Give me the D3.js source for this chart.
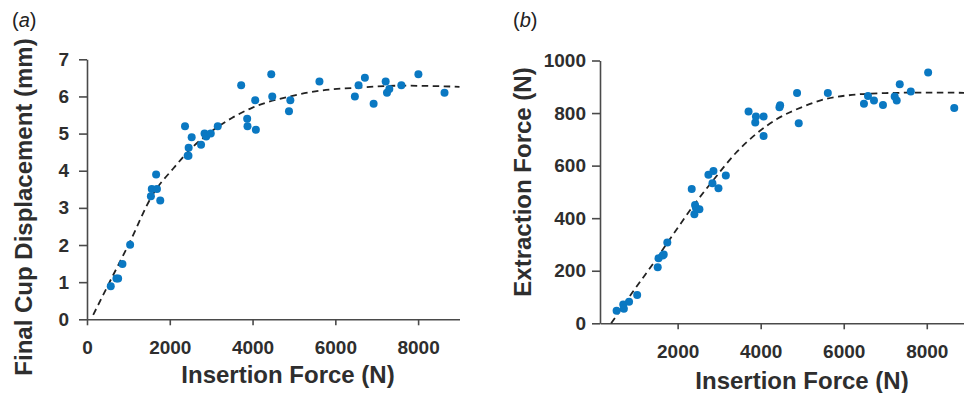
<!DOCTYPE html>
<html>
<head>
<meta charset="utf-8">
<script src="https://cdn.jsdelivr.net/npm/d3@7"></script>
<style>
  html, body { margin: 0; padding: 0; background: #fff; }
  svg { display: block; font-family: "Liberation Sans", Arial, Helvetica, sans-serif; }
  .axis path, .axis line { stroke: #4a4a4a; stroke-width: 1.6; }
  .axis text { fill: #2e2e2e; font-size: 19px; font-weight: bold; }
  .title { fill: #2e2e2e; font-size: 24px; font-weight: bold; }
  .panel { fill: #222; font-size: 20px; }
</style>
</head>
<body>
<svg width="964" height="393"></svg>
<script>
// Panel (a): insertion force vs final cup displacement
const forceA = [574, 711, 752, 856, 1042, 1544, 1565, 1690, 1670, 1770,
  2368, 2432, 2452, 2456, 2529, 2756, 2840, 2880, 2990, 3159,
  3725, 3870, 3878, 4064, 4080, 4452, 4476, 4880, 4913, 5616,
  6472, 6561, 6714, 6925, 7216, 7248, 7304, 7595, 8007, 8638];
const dispA = [0.89, 1.1, 1.1, 1.49, 2.01, 3.31, 3.51, 3.51, 3.9, 3.2,
  5.2, 4.4, 4.4, 4.62, 4.9, 4.7, 5.0, 4.92, 5.0, 5.2,
  6.3, 5.4, 5.2, 5.9, 5.1, 6.6, 6.0, 5.6, 5.9, 6.4,
  6.0, 6.3, 6.5, 5.8, 6.4, 6.1, 6.2, 6.3, 6.6, 6.1];
// dashed fit
const fitForceA = [150, 600, 1000, 1600, 2100, 2500, 3000, 3500, 4000, 4900, 5600, 6600, 7600, 9000];
const fitDispA = [0.12, 1.12, 2.0, 3.38, 4.08, 4.58, 5.05, 5.42, 5.7, 6.0, 6.15, 6.24, 6.29, 6.26];

// Panel (b): insertion force vs extraction force
const forceB = [530, 690, 705, 830, 1025, 1520, 1540, 1640, 1665, 1751,
  2339, 2403, 2419, 2440, 2524, 2741, 2838, 2862, 2983, 3160,
  3708, 3869, 3885, 4070, 4070, 4452, 4468, 4876, 4916, 5617,
  6487, 6584, 6728, 6945, 7227, 7276, 7349, 7615, 8033, 8662];
const extractB = [48, 72, 55, 82, 108, 213, 248, 258, 262, 307,
  511, 415, 450, 440, 434, 565, 533, 580, 514, 562,
  806, 764, 787, 787, 713, 822, 830, 876, 761, 876,
  835, 865, 848, 831, 863, 848, 910, 882, 954, 819];
const fitForceB = [400, 900, 1400, 1900, 2400, 2900, 3400, 3900, 4400, 5000, 5600, 6200, 7000, 8000, 9000];
const fitExtractB = [0, 115, 225, 340, 452, 553, 648, 722, 778, 823, 855, 869, 876, 878, 877];

// tick labels
const forceTicksA = [0, 2000, 4000, 6000, 8000];
const forceTicksB = [2000, 4000, 6000, 8000];
const dispTicks = [0, 1, 2, 3, 4, 5, 6, 7];
const extractTicks = [0, 200, 400, 600, 800, 1000];

const svg = d3.select('svg');

function drawPanel(opt) {
  const g = svg.append('g');

  // ejes
  g.append('g')
    .attr('class', 'axis')
    .attr('transform', `translate(0,${opt.y.range()[0]})`)
    .call(d3.axisBottom(opt.x).tickValues(opt.xTicks).tickSize(6).tickSizeOuter(0).tickPadding(15).tickFormat(d3.format('d')));

  g.append('g')
    .attr('class', 'axis')
    .attr('transform', `translate(${opt.x.range()[0]},0)`)
    .call(d3.axisLeft(opt.y).tickValues(opt.yTicks).tickSize(8).tickSizeOuter(0).tickPadding(opt.yPad).tickFormat(d3.format('d')));

  // curva de ajuste
  const pts = opt.fitX.map((v, i) => [v, opt.fitY[i]]);
  g.append('path')
    .datum(pts)
    .attr('fill', 'none')
    .attr('stroke', '#222')
    .attr('stroke-width', 1.8)
    .attr('stroke-dasharray', '6.5,4.5')
    .attr('d', d3.line().x(d => opt.x(d[0])).y(d => opt.y(d[1])).curve(d3.curveMonotoneX));

  // puntos
  g.append('g')
    .selectAll('circle')
    .data(opt.dataX.map((v, i) => [v, opt.dataY[i]]))
    .enter().append('circle')
    .attr('cx', d => opt.x(d[0]))
    .attr('cy', d => opt.y(d[1]))
    .attr('r', 4)
    .attr('fill', '#0a78c2');

  // titulos
  g.append('text')
    .attr('class', 'title')
    .attr('text-anchor', 'middle')
    .attr('x', opt.xTitle[0])
    .attr('y', opt.xTitle[1])
    .text('Insertion Force (N)');

  g.append('text')
    .attr('class', 'title')
    .attr('text-anchor', 'middle')
    .attr('transform', `translate(${opt.yTitle[0]},${opt.yTitle[1]}) rotate(-90)`)
    .text(opt.yLabel);

  const lab = g.append('text')
    .attr('class', 'panel')
    .attr('x', opt.tag[0])
    .attr('y', opt.tag[1]);
  lab.append('tspan').text('(');
  lab.append('tspan').attr('font-style', 'italic').text(opt.letter);
  lab.append('tspan').text(')');
}

drawPanel({
  x: d3.scaleLinear().domain([0, 9000]).range([87, 459.5]),
  y: d3.scaleLinear().domain([0, 7]).range([319.3, 59.3]),
  xTicks: forceTicksA, yTicks: dispTicks, yPad: 10,
  dataX: forceA, dataY: dispA, fitX: fitForceA, fitY: fitDispA,
  xTitle: [288, 383], yTitle: [32, 207], yLabel: 'Final Cup Displacement (mm)',
  tag: [12, 27], letter: 'a'
});

drawPanel({
  x: d3.scaleLinear().domain([130, 9000]).range([600, 968.3]),
  y: d3.scaleLinear().domain([0, 1000]).range([323.3, 60.5]),
  xTicks: forceTicksB, yTicks: extractTicks, yPad: 6,
  dataX: forceB, dataY: extractB, fitX: fitForceB, fitY: fitExtractB,
  xTitle: [802, 389], yTitle: [531, 182], yLabel: 'Extraction Force (N)',
  tag: [513, 27], letter: 'b'
});
</script>
</body>
</html>
